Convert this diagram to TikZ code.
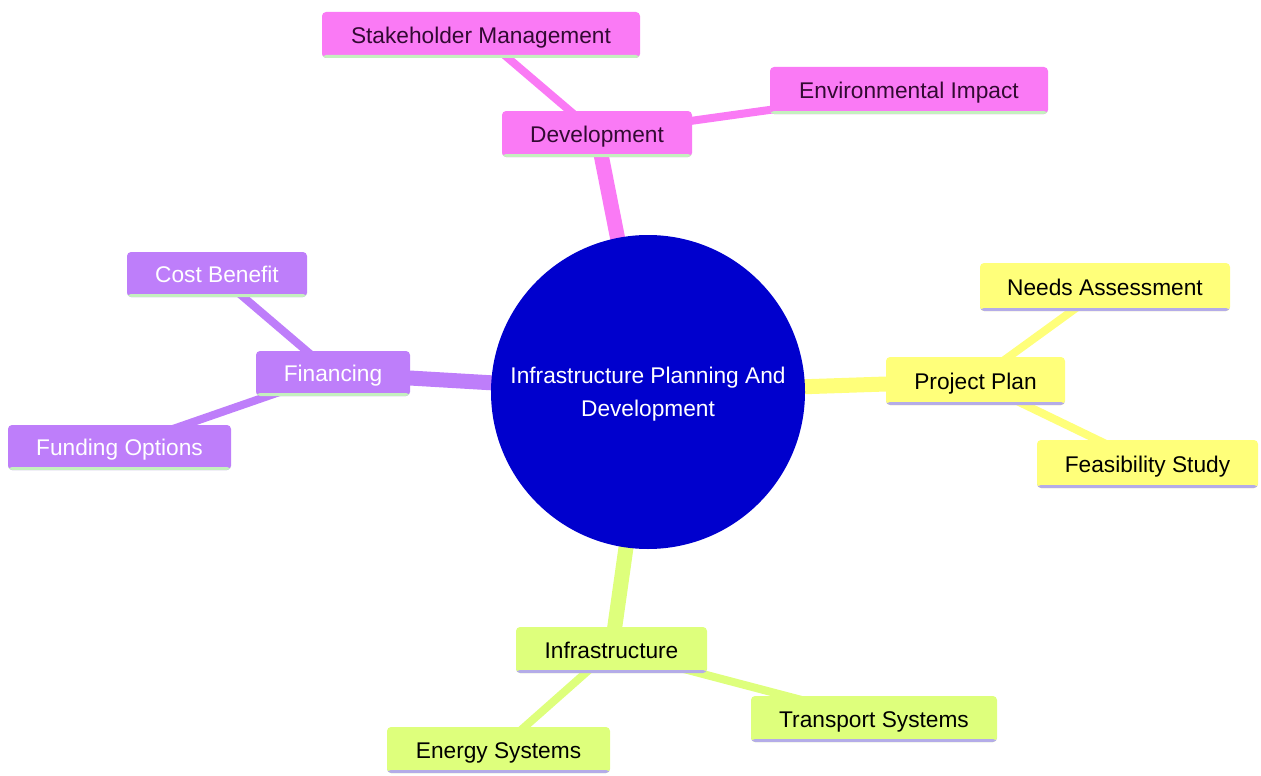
\documentclass[tikz,border=0pt]{standalone}
\usepackage{fontspec}
\setmainfont{Liberation Sans}
\usetikzlibrary{backgrounds}
\definecolor{pinkc}{RGB}{250,122,245}
\definecolor{yelc}{RGB}{255,255,122}
\definecolor{purc}{RGB}{190,126,250}
\definecolor{grnc}{RGB}{222,255,124}
\definecolor{bluec}{RGB}{0,0,205}
\definecolor{lgreen}{RGB}{196,240,190}
\definecolor{lav}{RGB}{180,172,232}
\definecolor{pinktext}{RGB}{50,10,50}
\begin{document}
\begin{tikzpicture}[x=1pt,y=-1pt,
  box/.style={rectangle, rounded corners=4pt, inner sep=0pt, text height=16.3pt, text depth=0pt,
    font=\fontsize{22.7}{27}\selectfont},
  sz/.style 2 args={minimum width=#1pt, minimum height=#2pt},
  pinkbox/.style={box, fill=pinkc, text=pinktext,
    path picture={\fill[lgreen] (path picture bounding box.south west) rectangle ([yshift=3pt]path picture bounding box.south east);}},
  yelbox/.style={box, fill=yelc, text=black,
    path picture={\fill[lav] (path picture bounding box.south west) rectangle ([yshift=3pt]path picture bounding box.south east);}},
  purbox/.style={box, fill=purc, text=white,
    path picture={\fill[lgreen] (path picture bounding box.south west) rectangle ([yshift=3pt]path picture bounding box.south east);}},
  grnbox/.style={box, fill=grnc, text=black,
    path picture={\fill[lav] (path picture bounding box.south west) rectangle ([yshift=3pt]path picture bounding box.south east);}},
  mainedge/.style={line width=15pt},
  subedge/.style={line width=8pt}
]
\useasboundingbox (0,0) rectangle (1261,776);

\node[circle, fill=bluec, minimum size=314pt, inner sep=0pt] (root) at (648,392) {};
\node[text=white, align=center, inner sep=0pt,
  font=\fontsize{22.7}{33}\selectfont] (roottext) at ([yshift=-2pt]root.center) {Infrastructure Planning And\\Development};

\node[pinkbox, sz={318}{46}] (stake) at (481,35) {Stakeholder Management};
\node[pinkbox, sz={190}{46}] (dev) at (597,134) {Development};
\node[pinkbox, sz={278}{47}] (env) at (909,90.5) {Environmental Impact};

\node[yelbox, sz={250}{48}] (needs) at (1105,287) {Needs Assessment};
\node[yelbox, sz={179}{48}] (plan) at (975.5,381) {Project Plan};
\node[yelbox, sz={221}{48}] (feas) at (1147.5,464) {Feasibility Study};

\node[purbox, sz={180}{45}] (cost) at (217,274.5) {Cost Benefit};
\node[purbox, sz={154}{45}] (fin) at (333,373.5) {Financing};
\node[purbox, sz={223}{45}] (fund) at (119.5,447.5) {Funding Options};

\node[grnbox, sz={191}{46}] (infra) at (611.5,650) {Infrastructure};
\node[grnbox, sz={246}{46}] (trans) at (874,719) {Transport Systems};
\node[grnbox, sz={223}{46}] (energy) at (498.5,750) {Energy Systems};

\begin{pgfonlayer}{background}
\draw[mainedge, pinkc] (root.center) -- (dev.center);
\draw[mainedge, yelc] (root.center) -- (plan.center);
\draw[mainedge, purc] (root.center) -- (fin.center);
\draw[mainedge, grnc] (root.center) -- (infra.center);
\draw[subedge, pinkc] (dev.center) -- (stake.center);
\draw[subedge, pinkc] (dev.center) -- (env.center);
\draw[subedge, yelc] (plan.center) -- (needs.center);
\draw[subedge, yelc] (plan.center) -- (feas.center);
\draw[subedge, purc] (fin.center) -- (cost.center);
\draw[subedge, purc] (fin.center) -- (fund.center);
\draw[subedge, grnc] (infra.center) -- (trans.center);
\draw[subedge, grnc] (infra.center) -- (energy.center);
\end{pgfonlayer}
\end{tikzpicture}
\end{document}
